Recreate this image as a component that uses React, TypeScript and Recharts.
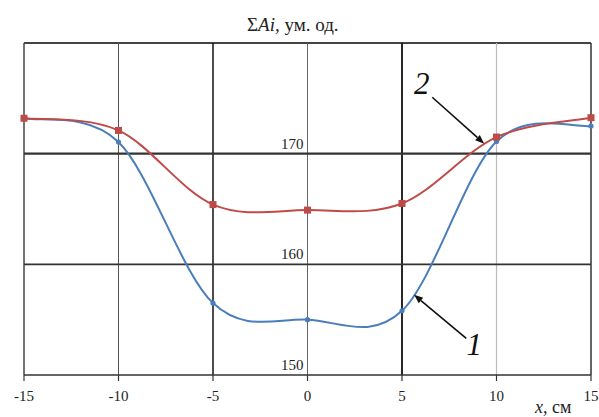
import React from 'react';
import { LineChart, Line, XAxis, YAxis, ReferenceLine, ReferenceDot } from 'recharts';

const xs = [-15, -10, -5, 0, 5, 10, 15];
const series1 = [173.2, 171.05, 156.5, 155.0, 155.8, 171.1, 172.5];
const series2 = [173.2, 172.1, 165.4, 164.9, 165.5, 171.5, 173.25];
const xTicks = [-15, -10, -5, 0, 5, 10, 15];
const yTicks = [150, 160, 170];

const data = xs.map((x, i) => ({ x, s1: series1[i], s2: series2[i] }));

const W = 599;
const H = 417;
const M = { top: 43, right: 8, bottom: 22, left: 24 };
const SERIF = '"Liberation Serif", "Times New Roman", serif';

// Excel-like smoothed line (Catmull-Rom style Bezier through every point)
const smoothCurve: any = (context: any) => {
  let pts: number[][] = [];
  return {
    areaStart() {},
    areaEnd() {},
    lineStart() {
      pts = [];
    },
    point(x: number, y: number) {
      pts.push([+x, +y]);
    },
    lineEnd() {
      const n = pts.length;
      if (!n) return;
      context.moveTo(pts[0][0], pts[0][1]);
      for (let i = 0; i < n - 1; i++) {
        const p0 = pts[Math.max(0, i - 1)];
        const p1 = pts[i];
        const p2 = pts[i + 1];
        const p3 = pts[Math.min(n - 1, i + 2)];
        const c1x = p1[0] + (p2[0] - p0[0]) / 6;
        const c1y = p1[1] + (p2[1] - p0[1]) / 6;
        const c2x = p2[0] - (p3[0] - p1[0]) / 6;
        const c2y = p2[1] - (p3[1] - p1[1]) / 6;
        context.bezierCurveTo(c1x, c1y, c2x, c2y, p2[0], p2[1]);
      }
    },
  };
};

const SquareDot = (props: any) => {
  const { cx, cy } = props;
  if (cx == null || cy == null) return null;
  return <rect x={cx - 3.5} y={cy - 3.5} width={7} height={7} fill="#BE4B48" />;
};

const RoundDot = (props: any) => {
  const { cx, cy } = props;
  if (cx == null || cy == null) return null;
  return <circle cx={cx} cy={cy} r={2.6} fill="#4A7EBB" />;
};

const Arrow = (props: any) => {
  const { x1, y1, x2, y2 } = props;
  if (x1 == null) return null;
  const ang = Math.atan2(y2 - y1, x2 - x1);
  const L = 9;
  const w = 3.5;
  const bx = x2 - L * Math.cos(ang);
  const by = y2 - L * Math.sin(ang);
  const px = -Math.sin(ang) * w;
  const py = Math.cos(ang) * w;
  return (
    <g>
      <line x1={x1} y1={y1} x2={bx} y2={by} stroke="#111" strokeWidth={1.6} />
      <polygon points={`${x2},${y2} ${bx + px},${by + py} ${bx - px},${by - py}`} fill="#111" />
    </g>
  );
};

const makeLabel = (txt: string) => (props: any) => {
  const { cx, cy } = props;
  return (
    <text x={cx} y={cy} textAnchor="middle" dominantBaseline="central" fontSize={31} fontStyle="italic" fontFamily={SERIF} fill="#111">
      {txt}
    </text>
  );
};

const makeYTick = (txt: string) => (props: any) => {
  const { cx, cy } = props;
  return (
    <text x={cx - 4} y={cy - 5} textAnchor="end" fontSize={15} fontFamily={SERIF} fill="#222">
      {txt}
    </text>
  );
};

export default function App() {
  return (
    <div style={{ position: 'absolute', left: 0, top: 0, width: W, height: H, background: '#fff' }}>
      <div
        style={{
          position: 'absolute',
          left: 247,
          top: 14,
          fontFamily: SERIF,
          fontSize: 19,
          color: '#222',
          whiteSpace: 'nowrap',
        }}
      >
        Σ<i>Ai,</i> ум. од.
      </div>
      <LineChart width={W} height={H} data={data} margin={M}>
        <XAxis
          type="number"
          dataKey="x"
          domain={[-15, 15]}
          ticks={xTicks}
          height={20}
          axisLine={{ stroke: '#333', strokeWidth: 1.5 }}
          tickLine={{ stroke: '#333', strokeWidth: 1.2 }}
          tickSize={6}
          tickMargin={9}
          tick={{ fontSize: 15, fontFamily: SERIF, fill: '#222' }}
          interval={0}
        />
        <YAxis type="number" domain={[150, 180]} ticks={yTicks} hide />
        <ReferenceLine y={180} stroke="#444" strokeWidth={2} />
        <ReferenceLine x={-15} stroke="#444" strokeWidth={1.5} />
        <ReferenceLine x={15} stroke="#333" strokeWidth={1.5} />
        <ReferenceLine x={-10} stroke="#555" strokeWidth={1} />
        <ReferenceLine x={-5} stroke="#111" strokeWidth={1.5} />
        <ReferenceLine x={0} stroke="#666" strokeWidth={1} />
        <ReferenceLine x={5} stroke="#111" strokeWidth={1.8} />
        <ReferenceLine x={10} stroke="#bbb" strokeWidth={1.2} />
        <ReferenceLine y={170} stroke="#333" strokeWidth={2.2} />
        <ReferenceLine y={160} stroke="#333" strokeWidth={1.8} />
        {yTicks.map((v) => (
          <ReferenceDot key={v} x={0} y={v} r={0} shape={makeYTick(String(v))} />
        ))}
        <Line
          dataKey="s1"
          type={smoothCurve}
          stroke="#4A7EBB"
          strokeWidth={2}
          dot={<RoundDot />}
          activeDot={false}
          isAnimationActive={false}
        />
        <Line
          dataKey="s2"
          type={smoothCurve}
          stroke="#BE4B48"
          strokeWidth={2}
          dot={<SquareDot />}
          activeDot={false}
          isAnimationActive={false}
        />
        <ReferenceLine
          segment={[
            { x: 6.6, y: 175.1 },
            { x: 9.35, y: 170.9 },
          ]}
          shape={<Arrow />}
        />
        <ReferenceLine
          segment={[
            { x: 8.4, y: 153.3 },
            { x: 5.64, y: 157.25 },
          ]}
          shape={<Arrow />}
        />
        <ReferenceDot x={6.05} y={176.3} r={0} shape={makeLabel('2')} />
        <ReferenceDot x={8.82} y={152.8} r={0} shape={makeLabel('1')} />
      </LineChart>
      <div
        style={{
          position: 'absolute',
          left: 535,
          top: 397,
          fontFamily: SERIF,
          fontSize: 18,
          color: '#222',
          whiteSpace: 'nowrap',
        }}
      >
        <i>x</i>, см
      </div>
    </div>
  );
}
